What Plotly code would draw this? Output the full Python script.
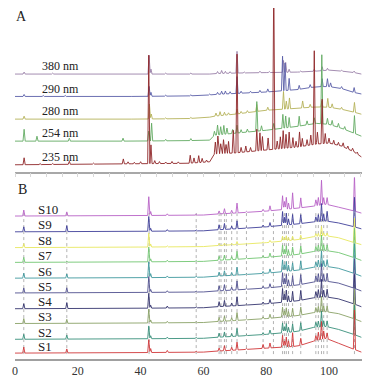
import numpy as np
import plotly.graph_objects as go

# ---------------- Panel A: one sample at five wavelengths ----------------
wavelengths = ["380 nm", "290 nm", "280 nm", "254 nm", "235 nm"]
colors_A = ["#9a80a8", "#5a5fa8", "#b5b25a", "#62aa62", "#8e2628"]
offsets_A = [100, 77.3, 54.3, 32, 8]          # stacking offsets (layout)

base_t_A = [0, 37, 55, 62, 63.5, 70, 80, 90, 96, 100, 104, 108, 110.3]
base_A = {
    "380 nm": [0, 0, 0, 0, 0.5, 1, 1.5, 2, 3, 4, 3, 1.5, 0],
    "290 nm": [0, 0, 0.5, 1.5, 2, 3, 4.5, 7, 10, 10, 8, 4, 2.5],
    "280 nm": [0, 0, 0.5, 2, 3, 5, 9, 11, 12.5, 12, 10, 7, 5],
    "254 nm": [0, 0, 0.5, 1, 6, 8, 11, 15, 18, 17, 13, 8, 5],
    "235 nm": [0, 1, 1.5, 3, 11, 12, 15, 18, 21, 22, 19, 13, 8],
}
peak_t_A = {
    "380 nm": [2.9, 12, 42.7, 43.3, 48, 56, 64.5, 65.8, 67, 68.5, 70.7, 73, 78, 81,
               85.5, 86.2, 87.3, 91, 95.3, 97.8, 99.5, 104, 108],
    "290 nm": [2.9, 9, 16, 42.7, 43.3, 48, 56, 62, 64.5, 65.8, 67, 68.5, 70.7, 72, 75,
               78, 80.5, 85.2, 86.0, 87.3, 90.5, 94, 97.8, 99.5, 100.5, 104, 108],
    "280 nm": [2.9, 42.8, 43.4, 48, 56, 64, 65.3, 66.7, 68, 70.7, 72, 74, 77, 80.5,
               85.5, 86.4, 87.4, 91.6, 94, 97.7, 99.6, 101, 104, 108.1],
    "254 nm": [2.9, 7, 17.3, 34.4, 42.6, 43.5, 48, 56, 63.5, 64.5, 65.5, 66.5, 67.5,
               69.3, 70.7, 72, 74, 77, 78.5, 82.4, 85.3, 86.2, 87.3, 90.5, 93, 95.3,
               97.7, 99.5, 101, 103, 105, 108.1],
    "235 nm": [2.9, 8, 12, 17.3, 25, 34.5, 36, 38, 40, 42.6, 43.3, 44.5, 46, 48, 50,
               52, 55.8, 57, 58.5, 59.6, 61, 63.8, 64.6, 65.5, 66.4, 67.2, 68, 69.5,
               70.7, 72, 73.5, 75, 77, 78, 78.8, 80.6, 82.4, 83.5, 84.5, 85.4, 86.3,
               87.3, 88.5, 89.5, 90.6, 91.5, 93, 94.2, 95.3, 96.3, 97.8, 98.8, 100,
               101.5, 103, 104.5, 106, 107.5, 109],
}
peak_h_A = {
    "380 nm": [2, 1, 19, 5, 1, 1, 2, 3, 2, 1.5, 22, 1, 1.5, 1, 12, 10, 3, 1, 2, 4, 2, 1, 1.5],
    "290 nm": [2, 1, 1, 10, 4, 1, 1, 1, 2, 3, 3, 2, 17, 2, 1.5, 2, 3, 35, 28, 12, 4, 3,
               8, 8, 4, 2, 5],
    "280 nm": [3, 15, 5, 1, 1, 3, 4, 3, 2, 5, 2, 2, 7, 3, 18, 8, 11, 7, 3, 6, 9, 4, 2, 10],
    "254 nm": [12, 5, 3, 3, 10, 18, 1.5, 2, 4, 10, 8, 9, 6, 4, 8, 3, 3, 30, 5, 6, 14, 12,
               10, 10, 4, 6, 70, 6, 5, 4, 3, 18],
    "235 nm": [7, 1, 1, 3, 1, 5, 2, 1.5, 2, 110, 19, 3, 2, 1.5, 2, 1.5, 8, 5, 7, 4, 2,
               12, 18, 10, 14, 9, 12, 23, 100, 5, 6, 4, 22, 18, 14, 12, 175, 8, 12, 18,
               14, 16, 10, 6, 15, 8, 6, 10, 95, 12, 45, 10, 5, 4, 3, 4, 3, 3, 2],
}

# ---------------- Panel B: ten samples at one wavelength ----------------
samples = ["S1", "S2", "S3", "S4", "S5", "S6", "S7", "S8", "S9", "S10"]
colors_B = ["#d0383a", "#38907a", "#8aa266", "#34346e", "#50508e", "#40989e",
            "#72c672", "#e8e860", "#40409a", "#b862c6"]
offsets_B = [6, 20, 36, 51, 67, 82, 98, 113, 129, 145]   # stacking offsets (layout)

base_t_B = [0, 40, 60, 64, 70, 80, 90, 95, 99, 103, 107, 110.3]
base_B = [
    [0, 0.5, 1, 2, 3, 5, 7, 12, 15, 10, 5, 1],
    [0, 0.5, 1, 2, 3, 5, 8, 12, 13, 10, 6, 2],
    [0, 0.5, 1, 2, 3, 5, 8, 11, 12, 10, 6, 2],
    [0, 0.5, 1, 2, 3, 5, 8, 11, 12, 10, 6, 2],
    [0, 0.5, 1, 2, 3, 5, 8, 11, 12, 10, 6, 2],
    [0, 0.5, 1, 2, 3, 5, 8, 11, 12, 10, 6, 2],
    [0, 0.5, 1, 2, 3, 5, 8, 11, 12, 10, 6, 2],
    [0, 0.5, 1, 2, 3, 5, 8, 11, 12, 10, 6, 3],
    [0, 0.5, 1, 2, 3, 5, 8, 10, 11, 9, 6, 3],
    [0, 0.5, 1, 2, 3, 5, 8, 10, 12, 9, 6, 3],
]
peak_t_B = [2.8, 16.5, 42.6, 43.2, 48.5, 57.7, 65.0, 66.7, 69.0, 70.7, 73.7, 79.0,
            81.2, 85.2, 85.8, 86.4, 87.1, 88.4, 91.0, 95.8, 96.6, 97.6, 98.3, 99.4, 108.1]
peak_h_B = [  # one row per sample, S1 ... S10
    [6, 4, 13, 4, 2, 1, 3, 5, 3, 8, 1, 4, 5, 12, 6, 10, 6, 14, 7, 5, 8, 18, 8, 6, 40],
    [5, 4, 13, 3, 1.5, 1, 4, 5, 3, 8, 1, 2, 4, 10, 6, 9, 5, 8, 8, 5, 6, 16, 6, 6, 30],
    [5, 4, 14, 3, 1.5, 1, 4, 5, 3, 8, 1, 2, 4, 10, 6, 9, 5, 8, 8, 5, 6, 16, 6, 6, 30],
    [5, 6, 15, 3, 2, 1, 5, 6, 3, 9, 1, 2, 4, 14, 8, 12, 6, 10, 10, 6, 8, 18, 7, 8, 30],
    [5, 5, 16, 3, 1.5, 1, 5, 6, 3, 9, 1, 2, 4, 14, 8, 12, 6, 10, 10, 6, 8, 18, 7, 8, 30],
    [5, 4, 16, 4, 1.5, 1, 4, 5, 3, 8, 1, 2, 4, 12, 7, 10, 6, 8, 9, 5, 7, 16, 6, 7, 30],
    [5, 1, 15, 3, 1.5, 1, 4, 5, 3, 8, 1, 2, 4, 11, 6, 10, 5, 8, 8, 5, 6, 16, 6, 6, 30],
    [4, 0.5, 14, 3, 1, 0.5, 2, 2, 1.5, 3, 0.5, 1, 2, 5, 3, 5, 3, 4, 4, 3, 3, 10, 3, 3, 25],
    [5, 6, 15, 3, 1.5, 1, 5, 6, 3, 8, 1, 2, 4, 14, 8, 12, 6, 10, 9, 5, 7, 18, 7, 10, 30],
    [6, 4, 19, 4, 1.5, 1, 3, 5, 3, 10, 1, 2, 5, 14, 8, 12, 6, 16, 10, 6, 8, 25, 7, 7, 36],
]
matched_peaks = [2.8, 16.5, 42.7, 57.7, 65.0, 65.6, 66.7, 67.3, 69.0, 70.7, 73.7, 79.0,
                 82.3, 85.2, 85.8, 86.4, 87.1, 88.4, 91.0, 95.8, 96.6, 97.6, 98.3, 99.4, 108.1]

tick_vals = [0, 20, 40, 60, 80, 100]
SERIF = "Liberation Serif, Times New Roman, serif"


def profile(bt, bv, pt, ph, w=0.35):
    xs = set(bt)
    for t in pt:
        xs.update([t - w, t, t + w])
    xs = np.array(sorted(x for x in xs if bt[0] <= x <= bt[-1]))
    ys = np.interp(xs, bt, bv)
    for t, h in zip(pt, ph):
        ys = ys + h * np.clip(1 - np.abs(xs - t) / w, 0, None)
    return xs, ys


fig = go.Figure()

for name, col, off in zip(wavelengths, colors_A, offsets_A):
    x, y = profile(base_t_A, base_A[name], peak_t_A[name], peak_h_A[name])
    fig.add_trace(go.Scatter(x=x, y=y + off, mode="lines", line=dict(color=col, width=0.9),
                             xaxis="x", yaxis="y", showlegend=False, hoverinfo="skip"))

dx, dy = [], []
for t in matched_peaks:
    dx += [t, t, None]
    dy += [offsets_B[0] - 1, offsets_B[-1] + 4, None]
fig.add_trace(go.Scatter(x=dx, y=dy, mode="lines",
                         line=dict(color="#a0a0a0", width=0.8, dash="dot"),
                         xaxis="x2", yaxis="y2", showlegend=False, hoverinfo="skip"))

for i in range(len(samples) - 1, -1, -1):
    x, y = profile(base_t_B, base_B[i], peak_t_B, peak_h_B[i])
    fig.add_trace(go.Scatter(x=x, y=y + offsets_B[i], mode="lines",
                             line=dict(color=colors_B[i], width=0.9),
                             xaxis="x2", yaxis="y2", showlegend=False, hoverinfo="skip"))

ann = []
ann.append(dict(x=2.2, y=158, xref="x", yref="y", text="A", showarrow=False,
                font=dict(family=SERIF, size=14, color="#222")))
for name, off in zip(wavelengths, offsets_A):
    ann.append(dict(x=7.9, y=off + 8, xref="x", yref="y", text=name, showarrow=False,
                    xanchor="left", font=dict(family=SERIF, size=12, color="#222")))
ann.append(dict(x=2.5, y=172, xref="x2", yref="y2", text="B", showarrow=False,
                font=dict(family=SERIF, size=14, color="#222")))
for name, off in zip(samples, offsets_B):
    ann.append(dict(x=6.7, y=off + 7, xref="x2", yref="y2", text=name, showarrow=False,
                    xanchor="left", font=dict(family=SERIF, size=13, color="#222")))

# The page body has an 8 px margin, so the figure is sized to fill the rest.
fig.update_layout(
    width=369, height=370,
    margin=dict(l=7, r=15, t=0, b=14),
    paper_bgcolor="white", plot_bgcolor="white",
    annotations=ann,
    xaxis=dict(domain=[0, 1], range=[0, 110.5], anchor="y", showgrid=False, zeroline=False,
               showline=True, linecolor="#a8a8a8", linewidth=1.5,
               ticks="outside", dtick=5, tick0=0, ticklen=4, tickcolor="#d8d8d8",
               showticklabels=False),
    yaxis=dict(domain=[0.5337, 1], range=[1, 167], visible=False, fixedrange=True),
    xaxis2=dict(domain=[0, 1], range=[0, 110.5], anchor="y2", showgrid=False, zeroline=False,
                showline=True, linecolor="#a0a0a0", linewidth=2,
                tickvals=tick_vals, ticks="", ticklen=0,
                tickfont=dict(family=SERIF, size=12, color="#333")),
    yaxis2=dict(domain=[0, 0.5169], range=[0, 184], visible=False, fixedrange=True),
)

fig.write_html("out.html")
